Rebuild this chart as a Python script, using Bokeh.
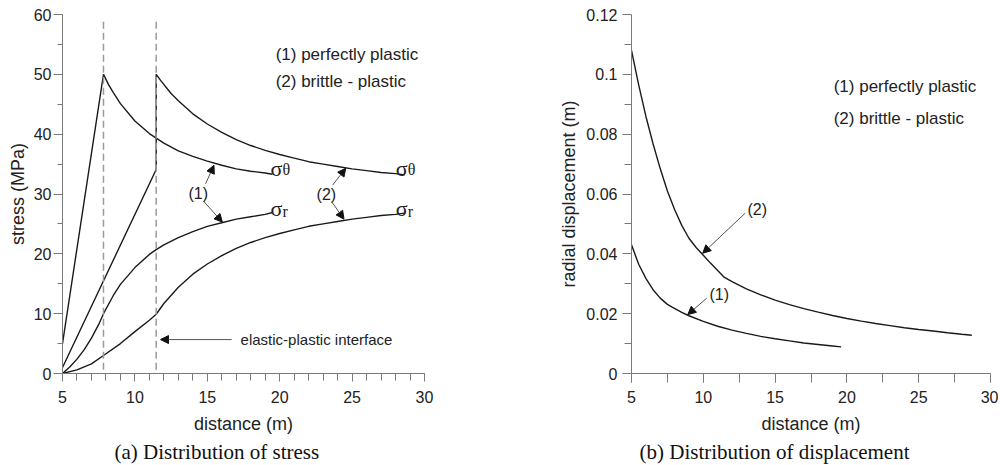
from bokeh.plotting import figure
from bokeh.layouts import row
from bokeh.models import (Range1d, SingleIntervalTicker, FixedTicker, Label, Arrow, Title,
                          NormalHead, CustomJSTickFormatter)
from bokeh.embed import file_html
from bokeh.resources import INLINE

# ---------------- data: (a) stress ----------------
r_theta1 = [5.0, 7.83, 8.2, 8.5, 9.0, 10.0, 11.0, 12.0, 13.0, 14.0, 15.0, 16.0, 17.0, 18.0, 19.0, 19.5]
s_theta1 = [5.0, 50.0, 48.2, 47.0, 45.1, 42.2, 40.1, 38.5, 37.2, 36.3, 35.5, 34.8, 34.2, 33.8, 33.5, 33.3]

r_r1 = [5.0, 5.5, 6.0, 6.5, 7.0, 7.5, 7.83, 8.5, 9.0, 10.0, 11.0, 11.47, 12.0, 13.0, 14.0, 15.0,
        16.0, 17.0, 18.0, 19.0, 19.5]
s_r1 = [0.0, 1.1, 2.4, 4.0, 5.9, 8.2, 10.0, 13.0, 14.9, 17.7, 19.9, 20.7, 21.5, 22.7, 23.7, 24.6,
        25.2, 25.8, 26.2, 26.6, 26.9]

r_theta2 = [5.0, 11.47, 11.47, 11.8, 12.5, 13.0, 14.0, 15.0, 16.0, 17.0, 18.0, 19.0, 20.0, 21.0,
            22.0, 23.0, 24.0, 25.0, 26.0, 27.0, 28.0, 28.63]
s_theta2 = [1.0, 34.1, 50.0, 48.9, 46.8, 45.6, 43.4, 41.7, 40.3, 39.1, 38.1, 37.3, 36.6, 36.0,
            35.4, 35.0, 34.6, 34.2, 33.9, 33.6, 33.4, 33.2]

r_r2 = [5.0, 6.0, 7.0, 7.83, 9.0, 10.0, 11.0, 11.47, 12.0, 13.0, 14.0, 15.0, 16.0, 17.0, 18.0,
        19.0, 20.0, 21.0, 22.0, 23.0, 24.0, 25.0, 26.0, 27.0, 28.0, 28.63]
s_r2 = [0.0, 0.6, 1.6, 3.0, 5.0, 7.0, 8.9, 9.9, 11.7, 14.4, 16.6, 18.3, 19.7, 20.9, 21.9,
        22.7, 23.4, 24.0, 24.6, 25.0, 25.4, 25.8, 26.1, 26.4, 26.6, 26.8]

interface_r = [7.83, 11.47]

# ---------------- data: (b) displacement ----------------
r_u1 = [5.0, 5.5, 6.0, 6.5, 7.0, 7.5, 7.83, 8.5, 9.0, 10.0, 11.0, 12.0, 13.0, 14.0, 15.0, 16.0,
        17.0, 18.0, 19.0, 19.6]
u1 = [0.0430, 0.0365, 0.0318, 0.0280, 0.0252, 0.0231, 0.0222, 0.0204, 0.0193, 0.0174, 0.0158,
      0.0145, 0.0134, 0.0124, 0.0116, 0.0109, 0.0102, 0.0097, 0.0092, 0.0089]

r_u2 = [5.0, 5.5, 6.0, 6.5, 7.0, 7.5, 8.0, 8.5, 9.0, 9.5, 10.0, 10.5, 11.0, 11.47, 12.0, 13.0,
        14.0, 15.0, 16.0, 17.0, 18.0, 19.0, 20.0, 21.0, 22.0, 23.0, 24.0, 25.0, 26.0, 27.0, 28.0, 28.7]
u2 = [0.1080, 0.0965, 0.0860, 0.0768, 0.0685, 0.0610, 0.0548, 0.0495, 0.0452, 0.0421, 0.0395,
      0.0369, 0.0344, 0.0321, 0.0307, 0.0283, 0.0263, 0.0245, 0.0230, 0.0217, 0.0205, 0.0194,
      0.0184, 0.0175, 0.0167, 0.0160, 0.0153, 0.0147, 0.0142, 0.0136, 0.0131, 0.0128]

SANS = "Liberation Sans"
SERIF = "Liberation Serif"
CURVE = "#1a1a1a"
AXIS = "#7a7a7a"
TXT = "#222222"
POINTER = "#555555"


def style_axes(p):
    p.xgrid.visible = False
    p.ygrid.visible = False
    p.outline_line_color = None
    for ax in (p.xaxis[0], p.yaxis[0]):
        ax.axis_line_color = AXIS
        ax.major_tick_line_color = AXIS
        ax.minor_tick_line_color = AXIS
        ax.major_tick_in = 0
        ax.minor_tick_in = 0
        ax.major_label_text_font = SANS
        ax.major_label_text_font_size = "16px"
        ax.major_label_text_color = TXT
        ax.axis_label_text_font = SANS
        ax.axis_label_text_font_size = "18px"
        ax.axis_label_text_font_style = "normal"
        ax.axis_label_text_color = TXT


def txt(p, x, y, s, size="15px", font=SANS, align="left", xo=0, yo=0):
    p.add_layout(Label(x=x, y=y, text=s, text_font=font, text_font_size=size,
                       text_color=TXT, text_align=align, text_baseline="middle",
                       x_offset=xo, y_offset=yo))


def pointer(p, x0, y0, x1, y1):
    p.add_layout(Arrow(x_start=x0, y_start=y0, x_end=x1, y_end=y1,
                       line_color=POINTER, line_width=1,
                       end=NormalHead(size=8, fill_color="#111111", line_color="#111111")))


def caption(p, text, offset):
    p.add_layout(Title(text=text, align="left", offset=offset, standoff=2,
                       text_font=SERIF, text_font_size="21px", text_font_style="normal",
                       text_color="#111111"), "below")


# ================= (a) stress =================
pa = figure(width=556, height=464, output_backend="svg", toolbar_location=None,
            x_range=Range1d(5, 30), y_range=Range1d(0, 60),
            min_border_left=62, min_border_right=132, min_border_top=13, min_border_bottom=91)
style_axes(pa)
pa.xaxis.ticker = SingleIntervalTicker(interval=5, num_minor_ticks=5)
pa.yaxis.ticker = SingleIntervalTicker(interval=10, num_minor_ticks=2)
pa.xaxis.axis_label = "distance (m)"
pa.yaxis.axis_label = "stress (MPa)"
pa.xaxis.major_tick_out = 8
pa.xaxis.minor_tick_out = 7
pa.yaxis.major_tick_out = 9
pa.yaxis.minor_tick_out = 5
pa.xaxis.major_label_standoff = 9
pa.yaxis.major_label_standoff = 2
pa.xaxis.axis_label_standoff = 8
pa.yaxis.axis_label_standoff = 3

for xv in interface_r:
    pa.add_layout(Arrow(x_start=xv, y_start=58.8, x_end=xv, y_end=-5.8, end=None,
                        line_color="#9a9a9a", line_width=1.5, line_dash="7 4"))

for xs, ys in ((r_theta1, s_theta1), (r_r1, s_r1), (r_theta2, s_theta2), (r_r2, s_r2)):
    pa.line(xs, ys, line_color=CURVE, line_width=1.4)

txt(pa, 19.72, 53.3, "(1) perfectly plastic", size="17px")
txt(pa, 19.72, 48.8, "(2) brittle - plastic", size="17px")
txt(pa, 14.38, 30.1, "(1)", size="16px", align="center")
pointer(pa, 14.88, 31.7, 15.46, 34.8)
pointer(pa, 14.74, 28.8, 16.04, 25.3)
txt(pa, 23.22, 29.95, "(2)", size="16px", align="center")
pointer(pa, 23.66, 31.5, 24.56, 34.3)
pointer(pa, 23.59, 28.7, 24.44, 25.8)
for xl in (19.37, 28.01):
    txt(pa, xl, 34.2, "σ", size="22px", font=SERIF)
    txt(pa, xl, 34.2, "θ", size="16px", font=SERIF, xo=12, yo=-1)
    txt(pa, xl, 27.5, "σ", size="22px", font=SERIF)
    txt(pa, xl, 27.5, "r", size="16px", font=SERIF, xo=12, yo=-3)
txt(pa, 17.3, 5.67, "elastic-plastic interface")
pointer(pa, 16.68, 5.67, 11.77, 5.67)
caption(pa, "(a) Distribution of stress", 52)

# ================= (b) displacement =================
pb = figure(width=442, height=464, output_backend="svg", toolbar_location=None,
            x_range=Range1d(5, 30), y_range=Range1d(0, 0.12),
            min_border_left=72, min_border_right=8, min_border_top=14, min_border_bottom=90)
style_axes(pb)
pb.xaxis.ticker = SingleIntervalTicker(interval=5, num_minor_ticks=2)
pb.yaxis.ticker = FixedTicker(ticks=[0, 0.02, 0.04, 0.06, 0.08, 0.1, 0.12],
                              minor_ticks=[0.01, 0.03, 0.05, 0.07, 0.09, 0.11])
pb.yaxis.formatter = CustomJSTickFormatter(code="return String(+tick.toFixed(3));")
pb.xaxis.axis_label = "distance (m)"
pb.yaxis.axis_label = "radial displacement (m)"
pb.xaxis.major_tick_out = 9
pb.xaxis.minor_tick_out = 9
pb.yaxis.major_tick_out = 9
pb.yaxis.minor_tick_out = 7
pb.xaxis.major_label_standoff = 8
pb.yaxis.major_label_standoff = 5
pb.xaxis.axis_label_standoff = 8
pb.yaxis.axis_label_standoff = 4

pb.line(r_u1, u1, line_color=CURVE, line_width=1.4)
pb.line(r_u2, u2, line_color=CURVE, line_width=1.4)

txt(pb, 19.08, 0.0958, "(1) perfectly plastic", size="17px")
txt(pb, 19.08, 0.0852, "(2) brittle - plastic", size="17px")
txt(pb, 13.08, 0.0547, "(2)", size="16px")
pointer(pb, 12.92, 0.0536, 9.96, 0.0402)
txt(pb, 10.43, 0.0263, "(1)", size="16px")
pointer(pb, 10.24, 0.0252, 8.92, 0.0197)
caption(pb, "(b) Distribution of displacement", 8)

layout = row(pa, pb)
open("out.html", "w").write(file_html(layout, INLINE))
